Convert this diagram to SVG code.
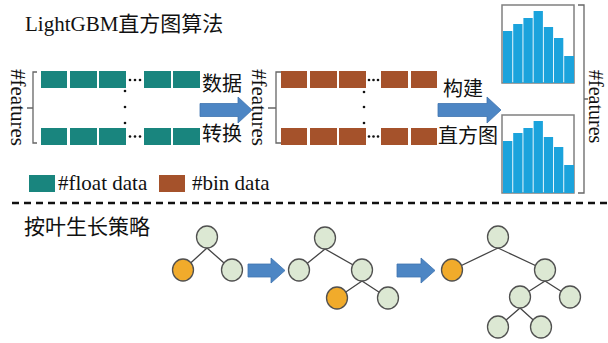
<svg xmlns="http://www.w3.org/2000/svg" width="608" height="343" viewBox="0 0 608 343">
<defs>
<style>
.t{font-family:"Liberation Serif","Noto Sans CJK SC",serif;fill:#111;}
.c{font-family:"Noto Sans CJK SC","Liberation Serif",sans-serif;fill:#111;}
.teal{fill:#19857e;}
.brown{fill:#a5522b;}
.dot{fill:#111;}
.brace{fill:none;stroke:#666;stroke-width:1.3;}
.hbox{fill:#fff;stroke:#808080;stroke-width:1.5;}
.bar{fill:#1ba3dc;}
.arrow{fill:#4d86c4;stroke:#3f74b0;stroke-width:0.8;}
.node{fill:#dce8d3;stroke:#505050;stroke-width:1.3;}
.leaf{fill:#f1ab2b;stroke:#505050;stroke-width:1.3;}
.edge{stroke:#444;stroke-width:1.3;fill:none;}
</style>
</defs>

<g id="title"><text class="t" x="25" y="31" font-size="21">LightGBM直方图算法</text></g>

<g id="float-matrix">
<text class="t" font-size="21" transform="translate(11,69) rotate(90)">#features</text>
<path class="brace" d="M37,72 H33 V143 H37 M33,108 H27"/>
<rect class="teal" x="41" y="71" width="26" height="17"/>
<rect class="teal" x="70" y="71" width="27" height="17"/>
<rect class="teal" x="99" y="71" width="27" height="17"/>
<rect class="teal" x="144" y="71" width="27" height="17"/>
<rect class="teal" x="173" y="71" width="27" height="17"/>
<rect class="teal" x="41" y="128" width="26" height="17"/>
<rect class="teal" x="70" y="128" width="27" height="17"/>
<rect class="teal" x="99" y="128" width="27" height="17"/>
<rect class="teal" x="144" y="128" width="27" height="17"/>
<rect class="teal" x="173" y="128" width="27" height="17"/>
<circle class="dot" cx="130" cy="80" r="1.3"/><circle class="dot" cx="135" cy="80" r="1.3"/><circle class="dot" cx="140" cy="80" r="1.3"/>
<circle class="dot" cx="130" cy="136.5" r="1.3"/><circle class="dot" cx="135" cy="136.5" r="1.3"/><circle class="dot" cx="140" cy="136.5" r="1.3"/>
<circle class="dot" cx="125" cy="91" r="1.3"/><circle class="dot" cx="125" cy="107" r="1.3"/><circle class="dot" cx="125" cy="123" r="1.3"/>
</g>

<g id="bin-matrix">
<text class="t" font-size="21" transform="translate(252,69) rotate(90)">#features</text>
<path class="brace" d="M281,72 H276 V143 H281 M276,108 H268"/>
<rect class="brown" x="281" y="71" width="26" height="17"/>
<rect class="brown" x="310" y="71" width="27" height="17"/>
<rect class="brown" x="339" y="71" width="27" height="17"/>
<rect class="brown" x="381" y="71" width="27" height="17"/>
<rect class="brown" x="411" y="71" width="26" height="17"/>
<rect class="brown" x="281" y="128" width="26" height="17"/>
<rect class="brown" x="310" y="128" width="27" height="17"/>
<rect class="brown" x="339" y="128" width="27" height="17"/>
<rect class="brown" x="381" y="128" width="27" height="17"/>
<rect class="brown" x="411" y="128" width="26" height="17"/>
<circle class="dot" cx="369" cy="80" r="1.3"/><circle class="dot" cx="373.5" cy="80" r="1.3"/><circle class="dot" cx="378" cy="80" r="1.3"/>
<circle class="dot" cx="369" cy="136.5" r="1.3"/><circle class="dot" cx="373.5" cy="136.5" r="1.3"/><circle class="dot" cx="378" cy="136.5" r="1.3"/>
<circle class="dot" cx="364" cy="92" r="1.3"/><circle class="dot" cx="364" cy="107" r="1.3"/><circle class="dot" cx="364" cy="123" r="1.3"/>
</g>

<g id="histograms">
<rect class="hbox" x="502" y="5" width="72" height="78"/>
<rect class="bar" x="503" y="31" width="9.3" height="52"/>
<rect class="bar" x="513.2" y="24" width="9.3" height="59"/>
<rect class="bar" x="523.4" y="18" width="9.3" height="65"/>
<rect class="bar" x="533.6" y="11" width="9.3" height="72"/>
<rect class="bar" x="543.8" y="27" width="9.3" height="56"/>
<rect class="bar" x="554" y="38" width="9.3" height="45"/>
<rect class="bar" x="564.2" y="56" width="9.8" height="27"/>
<rect class="hbox" x="502" y="115" width="72" height="78"/>
<rect class="bar" x="503" y="141" width="9.3" height="52"/>
<rect class="bar" x="513.2" y="133" width="9.3" height="60"/>
<rect class="bar" x="523.4" y="128" width="9.3" height="65"/>
<rect class="bar" x="533.6" y="121" width="9.3" height="72"/>
<rect class="bar" x="543.8" y="137" width="9.3" height="56"/>
<rect class="bar" x="554" y="147" width="9.3" height="46"/>
<rect class="bar" x="564.2" y="165" width="9.8" height="28"/>
<path class="brace" d="M578,5 H584 V193 H578 M584,99 H588"/>
<text class="t" font-size="20" transform="translate(589,70) rotate(90)">#features</text>
</g>

<g id="connectors">
<polygon class="arrow" points="200,103.5 238,103.5 238,97 252,110 238,123 238,116.5 200,116.5"/>
<polygon class="arrow" points="438,103.5 487,103.5 487,97 501,110 487,123 487,116.5 438,116.5"/>
<polygon class="arrow" points="248,264 271,264 271,258 285,270.5 271,283 271,277 248,277"/>
<polygon class="arrow" points="397,264 421,264 421,258 435,270.5 421,283 421,277 397,277"/>
<path class="edge" d="M207,248 L183,270 M207,248 L232,270"/>
<path class="edge" d="M325,249 L299,270 M325,249 L362,270 M362,281 L337,298 M362,281 L388,298"/>
<path class="edge" d="M498,248 L452,270 M498,248 L545,270 M545,281 L520,297 M545,281 L570,297 M520,308 L498,327 M520,308 L541,327"/>
</g>

<g id="labels">
<text class="c" x="202" y="91" font-size="20">数据</text>
<text class="c" x="202" y="141" font-size="20">转换</text>
<text class="c" x="443" y="96" font-size="20">构建</text>
<text class="c" x="438" y="143" font-size="20">直方图</text>
</g>

<g id="legend">
<rect class="teal" x="29" y="175" width="26" height="17"/>
<text class="t" x="58" y="190" font-size="21">#float data</text>
<rect class="brown" x="159" y="175" width="26" height="17"/>
<text class="t" x="192" y="190" font-size="21">#bin data</text>
</g>

<g id="divider"><line x1="12" y1="203" x2="608" y2="203" stroke="#111" stroke-width="2.5" stroke-dasharray="7 5"/></g>

<g id="leafwise-title"><text class="c" x="24" y="234" font-size="21">按叶生长策略</text></g>

<g id="tree1">
<ellipse class="node" cx="207" cy="237" rx="10.5" ry="11"/>
<ellipse class="leaf" cx="183" cy="270" rx="10.5" ry="11"/>
<ellipse class="node" cx="232" cy="270" rx="10.5" ry="11"/>
</g>
<g id="tree2">
<ellipse class="node" cx="325" cy="238" rx="10.5" ry="11"/>
<ellipse class="node" cx="299" cy="270" rx="10.5" ry="11"/>
<ellipse class="node" cx="362" cy="270" rx="10.5" ry="11"/>
<ellipse class="leaf" cx="337" cy="298" rx="10.5" ry="11"/>
<ellipse class="node" cx="388" cy="298" rx="10.5" ry="11"/>
</g>
<g id="tree3">
<ellipse class="node" cx="498" cy="237" rx="10.5" ry="11"/>
<ellipse class="leaf" cx="452" cy="270" rx="10.5" ry="11"/>
<ellipse class="node" cx="545" cy="270" rx="10.5" ry="11"/>
<ellipse class="node" cx="520" cy="297" rx="10.5" ry="11"/>
<ellipse class="node" cx="570" cy="297" rx="10.5" ry="11"/>
<ellipse class="node" cx="498" cy="327" rx="10.5" ry="11"/>
<ellipse class="node" cx="541" cy="327" rx="10.5" ry="11"/>
</g>
</svg>
